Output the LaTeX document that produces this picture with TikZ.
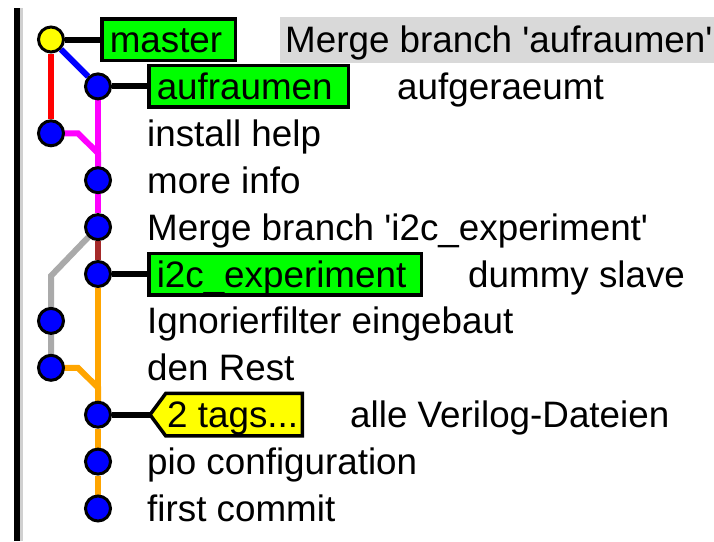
\documentclass[tikz,border=0pt]{standalone}
\usepackage{fontspec}
\setmainfont{Liberation Sans}[Ligatures=TeXOff]
\usetikzlibrary{backgrounds,calc}
\definecolor{hlgray}{RGB}{217,217,217}
\definecolor{linegray}{RGB}{170,170,170}
\definecolor{barlight}{RGB}{208,208,208}
\definecolor{brownline}{RGB}{165,42,42}
\definecolor{orangeline}{RGB}{255,165,0}
\definecolor{greenbox}{RGB}{0,255,0}
\definecolor{pinkline}{RGB}{255,0,255}
\definecolor{redline}{RGB}{255,0,0}
\definecolor{blueline}{RGB}{0,0,255}
\definecolor{yellowfill}{RGB}{255,255,0}
\begin{document}
\begin{tikzpicture}[x=1pt,y=-1pt,
  every node/.style={font=\fontsize{36.8}{40}\selectfont},
  commit/.style={circle,draw=black,line width=3pt,fill=blueline,minimum size=25pt,inner sep=0pt},
  headcommit/.style={commit,fill=yellowfill},
  txt/.style={anchor=west,inner sep=0pt,text height=30pt,text depth=4pt},
  branchbox/.style={draw=black,line width=3.5pt,fill=greenbox,anchor=west,inner xsep=8pt,inner ysep=3.75pt,text height=30pt,text depth=4pt,align=left},
  hlbox/.style={fill=hlgray,anchor=west,inner xsep=5pt,inner ysep=0pt,text height=30pt,text depth=4pt,minimum height=46pt},
  edge/.style={line width=6pt},
  link/.style={line width=6pt,draw=black},
  tagshape/.style={draw=black,fill=yellowfill,line width=3.5pt,line join=miter}
]
\useasboundingbox (0,0) rectangle (714,541);
% commits
\node[headcommit] (m)  at (51,39.5) {};
\node[commit] (au) at (98,86.4) {};
\node[commit] (ih) at (51,133.3) {};
\node[commit] (mi) at (98,180.2) {};
\node[commit] (mb) at (98,227.1) {};
\node[commit] (i2) at (98,274.0) {};
\node[commit] (ig) at (51,320.9) {};
\node[commit] (dr) at (51,367.8) {};
\node[commit] (tg) at (98,414.7) {};
\node[commit] (pc) at (98,461.6) {};
\node[commit] (fc) at (98,508.5) {};
% labels
\node[branchbox,text width=117.5pt] (mbox) at (100,39.5) {master};
\node[hlbox] (t0) at (280,39.5) {Merge branch 'aufraumen'};
\node[branchbox,text width=183.5pt] (aubox) at (147,86.4) {aufraumen};
\node[txt] (t1) at (397,86.4) {aufgeraeumt};
\node[txt] (t2) at (147,133.3) {install help};
\node[txt] (t3) at (147,180.2) {more info};
\node[txt] (t4) at (147,227.1) {Merge branch 'i2c\_experiment'};
\node[branchbox,text width=256.5pt] (i2box) at (147,274.0) {i2c\_experiment};
\node[txt] (t5) at (468,274.0) {dummy slave};
\node[txt] (t6) at (147,320.9) {Ignorierfilter eingebaut};
\node[txt] (t7) at (147,367.8) {den Rest};
\node[txt] (tagt) at (167,414.7) {2 tags...};
\node[txt] (t8) at (350,414.7) {alle Verilog-Dateien};
\node[txt] (t9) at (147,461.6) {pio configuration};
\node[txt] (t10) at (147,508.5) {first commit};
\coordinate (tagtip) at (150,414.7);
\begin{scope}[on background layer]
  % left bar
  \fill[black] (14,8) rectangle (19.5,541);
  \fill[barlight] (19.5,8) rectangle (22.5,541);
  % graph lines
  \draw[edge,redline] (m) -- (ih);
  \draw[edge,blueline] (m) -- (au);
  \draw[edge,pinkline] (au) -- (mi) -- (mb);
  \draw[edge,pinkline,line join=miter] (ih.center) -- ++(27,0) -- ($(mi.center)+(0,-27)$) -- (mi.center);
  \draw[edge,brownline] (mb) -- (i2);
  \draw[edge,linegray,line join=miter] (mb.center) -- ($(ig.center)+(0,-45)$) -- (ig.center) -- (dr.center);
  \draw[edge,orangeline] (i2) -- (tg) -- (pc) -- (fc);
  \draw[edge,orangeline,line join=miter] (dr.center) -- ++(27,0) -- ($(tg.center)+(0,-27)$) -- (tg.center);
  % links to labels
  \draw[link] (m) -- (mbox.west);
  \draw[link] (au) -- (aubox.west);
  \draw[link] (i2) -- (i2box.west);
  \draw[link] (tg) -- (tagtip);
  % tag shape
  \draw[tagshape] (tagtip) -- (165.75,393.45) -- (302.25,393.45) -- (302.25,435.95) -- (165.75,435.95) -- cycle;
\end{scope}
\end{tikzpicture}
\end{document}
